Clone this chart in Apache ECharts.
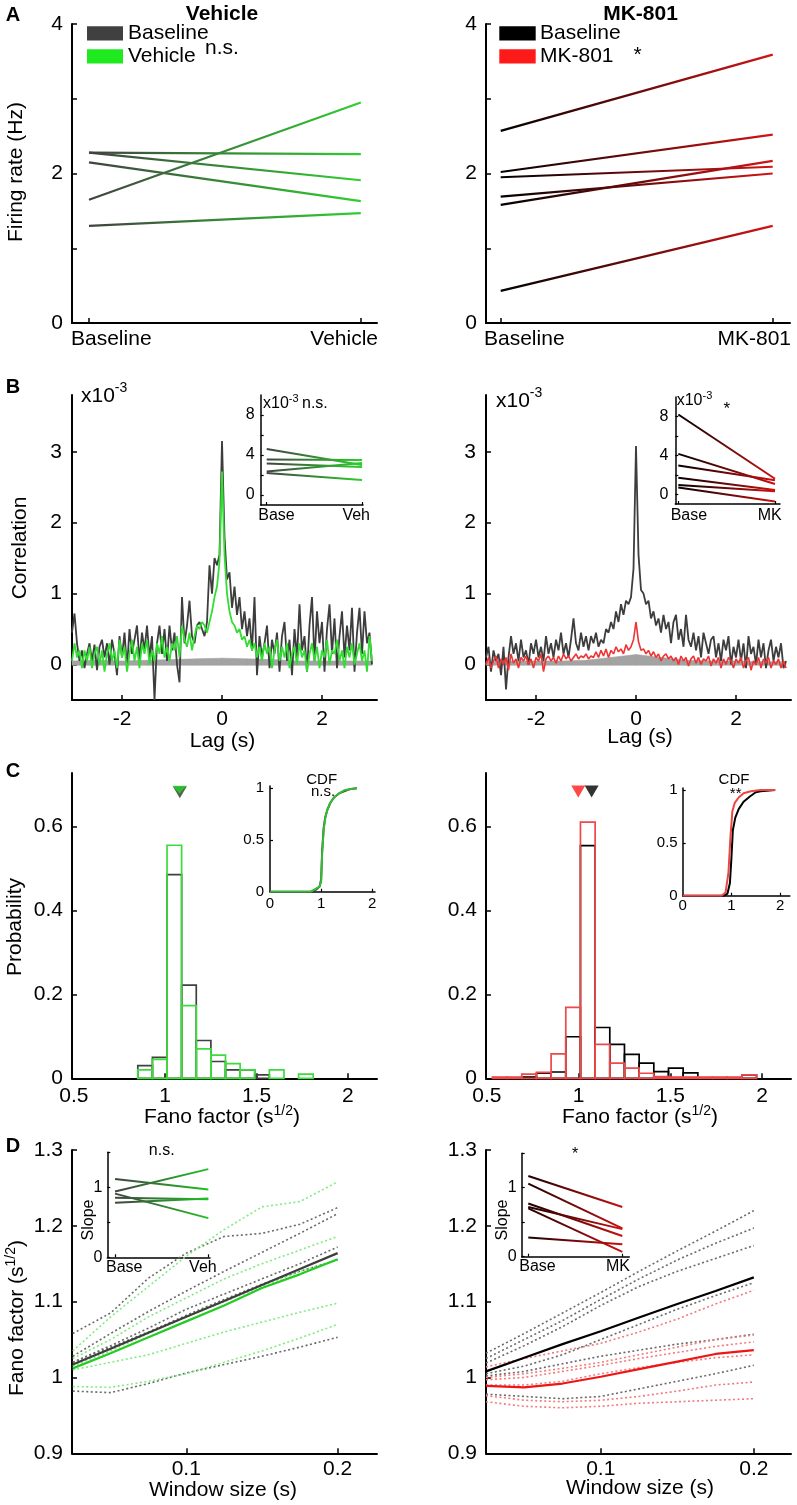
<!DOCTYPE html>
<html><head><meta charset="utf-8">
<script src="https://cdn.jsdelivr.net/npm/echarts@6/dist/echarts.min.js"></script>
<style>html,body{margin:0;padding:0;background:#fff}#c{width:797px;height:1505px}</style>
</head><body><div id="c"></div>
<script>
// ---------------- DATA ----------------
// Panel A : firing rate (Hz)
const A_CATS_VEH = ['Baseline', 'Vehicle'];
const A_CATS_MK = ['Baseline', 'MK-801'];
const A_VEH_BASELINE = [2.28, 2.28, 2.15, 1.65, 1.30];
const A_VEH_VEHICLE  = [2.26, 1.91, 1.63, 2.95, 1.47];
const A_MK_BASELINE  = [2.57, 2.02, 1.95, 1.69, 1.58, 0.43];
const A_MK_MK801     = [3.59, 2.52, 2.09, 2.00, 2.17, 1.30];

// Panel B : cross-correlograms (x10^-3), lag -3..3 s
const B_LAG_START = -3, B_LAG_STEP = 0.05;
const B_VEH_BASELINE = [0.45,0.72,0.30,0.05,0.20,-0.05,0.15,0.30,0.05,0.28,-0.08,0.25,0.35,0.10,0.30,0.00,0.35,0.15,-0.15,0.40,0.10,0.45,-0.05,0.50,0.15,0.35,0.55,0.05,0.45,0.20,0.55,0.10,0.40,-0.50,0.30,0.55,0.15,0.50,0.05,0.55,0.20,0.45,0.00,-0.25,0.95,0.30,0.55,0.90,0.40,0.30,0.55,0.60,0.50,0.40,0.60,1.40,1.00,1.50,1.40,1.55,3.15,1.80,1.20,1.30,0.80,1.10,0.70,0.95,0.50,0.75,0.40,0.65,0.20,0.95,-0.15,0.40,0.10,0.30,0.55,-0.05,0.35,0.15,0.45,-0.10,0.40,0.60,0.05,0.35,-0.15,0.50,0.10,0.85,0.20,0.40,-0.10,0.55,0.95,0.05,0.75,0.30,0.60,-0.10,0.50,0.85,0.15,0.65,-0.05,0.40,0.75,0.10,0.55,0.20,0.80,-0.10,0.45,0.80,0.15,0.75,0.30,0.45,0.00];
const B_VEH_VEHICLE = [0.05,0.30,0.10,0.20,-0.05,0.20,0.05,0.25,-0.05,0.15,0.25,0.00,0.20,-0.10,0.15,0.30,0.05,0.20,-0.05,0.35,0.10,0.25,-0.10,0.15,0.35,0.05,0.25,-0.05,0.30,0.15,0.35,0.00,0.20,0.05,0.30,0.15,0.40,0.10,0.25,0.05,0.30,0.20,0.40,0.10,0.55,0.35,0.25,0.45,0.20,0.40,0.55,0.50,0.60,0.55,0.45,0.60,0.75,0.95,1.10,1.45,2.72,1.55,1.00,0.75,0.60,0.55,0.45,0.50,0.35,0.40,0.25,0.35,0.20,0.30,0.10,0.25,0.05,0.30,0.15,0.25,-0.05,0.20,0.35,0.05,0.25,0.10,0.30,-0.05,0.15,0.25,0.00,0.30,0.10,0.20,-0.10,0.15,0.30,0.05,0.25,-0.05,0.20,0.10,0.35,0.00,0.20,0.15,0.35,0.05,0.20,-0.05,0.25,0.10,0.30,0.00,0.15,0.30,0.05,0.20,-0.10,0.40,0.05];
const B_MK_BASELINE = [0.10,0.25,-0.10,0.20,0.05,0.15,-0.15,0.25,-0.35,0.10,0.40,0.15,0.30,0.05,0.35,0.10,0.20,0.00,0.30,0.15,0.35,0.10,0.25,0.05,0.40,0.15,0.30,0.10,0.35,0.20,0.45,0.15,0.30,0.10,0.35,0.65,0.30,0.20,0.45,0.25,0.40,0.20,0.40,0.30,0.45,0.25,0.35,0.30,0.50,0.45,0.60,0.50,0.75,0.60,0.85,0.70,0.90,0.85,0.95,1.35,3.08,1.55,1.05,1.00,0.85,0.90,0.65,0.75,0.55,0.65,0.45,0.70,0.50,0.60,0.30,0.60,0.70,0.35,0.50,0.25,0.70,0.35,0.25,0.45,0.20,0.40,0.10,0.45,0.30,0.15,0.35,0.40,0.10,0.30,0.05,0.35,0.20,0.40,0.00,0.25,0.10,0.35,0.05,0.30,-0.05,0.40,0.15,0.25,0.00,0.35,0.10,0.30,-0.05,0.20,0.35,0.05,0.25,0.10,0.30,-0.05,0.05];
const B_MK_MK801 = [0.00,0.10,-0.05,0.05,0.12,-0.05,0.08,0.00,0.10,-0.08,0.15,0.02,0.08,-0.05,0.10,0.05,0.12,0.00,0.08,-0.05,0.10,0.05,0.15,-0.10,0.08,0.12,0.05,0.10,0.02,0.12,0.05,0.15,0.08,0.12,0.05,0.10,0.15,0.08,0.12,0.10,0.15,0.08,0.12,0.10,0.18,0.10,0.20,0.12,0.22,0.10,0.20,0.15,0.25,0.18,0.22,0.15,0.28,0.20,0.25,0.35,0.60,0.32,0.20,0.22,0.15,0.20,0.12,0.18,0.10,0.15,0.05,0.12,0.15,0.08,0.12,0.05,0.10,0.00,0.12,0.05,0.10,-0.02,0.08,0.12,0.02,0.10,0.00,0.08,0.05,0.12,-0.02,0.08,0.02,0.10,-0.05,0.08,0.00,0.10,0.05,-0.05,0.08,0.02,0.10,-0.05,0.05,0.10,-0.08,0.05,0.00,0.10,-0.05,0.08,0.02,0.10,-0.05,0.05,0.00,0.08,-0.05,0.05,-0.05];
const B_BAND_LAGS   = [-3,-2.5,-2,-1.5,-1,-0.5,0,0.5,1,1.5,2,2.5,3];
const B_VEH_SHUF_LO = [-0.01,-0.01,-0.01,-0.01,-0.01,-0.01,-0.01,-0.01,-0.01,-0.01,-0.01,-0.01,-0.01];
const B_VEH_SHUF_HI = [0.05,0.06,0.05,0.06,0.07,0.08,0.09,0.08,0.07,0.05,0.05,0.05,0.05];
const B_MK_SHUF_LO  = [-0.01,-0.01,-0.01,-0.01,-0.01,-0.01,-0.01,-0.01,-0.01,-0.01,-0.01,-0.01,-0.01];
const B_MK_SHUF_HI  = [0.04,0.05,0.05,0.05,0.06,0.10,0.14,0.10,0.06,0.05,0.05,0.04,0.04];
// Panel B insets (x10^-3)
const INSET_CATS_VEH = ['Base', 'Veh'];
const INSET_CATS_MK = ['Base', 'MK'];
const B_INSET_VEH_BASE = [4.6, 3.55, 3.15, 2.35, 2.2];
const B_INSET_VEH_VEH  = [3.0, 3.5, 2.8, 3.2, 1.5];
const B_INSET_MK_BASE  = [8.2, 4.15, 2.95, 1.7, 0.95, 0.7];
const B_INSET_MK_MK    = [1.6, 1.05, 1.45, 0.45, 0.3, -0.75];

// Panel C : Fano factor histograms
const C_EDGES = [0.53,0.61,0.69,0.77,0.85,0.93,1.01,1.09,1.17,1.25,1.33,1.41,1.49,1.57,1.65,1.73,1.81,1.89,1.97];
const C_VEH_BASELINE = [0,0,0,0,0.03,0.05,0.485,0.222,0.09,0.04,0.02,0.02,0.008,0,0,0,0,0];
const C_VEH_VEHICLE  = [0,0,0,0,0.02,0.045,0.555,0.173,0.07,0.055,0.035,0.02,0,0.02,0,0.01,0,0];
const C_MK_BASELINE  = [0,0,0.003,0.012,0.015,0.099,0.554,0.121,0.081,0.057,0.036,0.016,0.024,0.013,0,0,0,0.008];
const C_MK_MK801     = [0.003,0.003,0.01,0.014,0.058,0.169,0.610,0.081,0.036,0.024,0.012,0.004,0.003,0.003,0.003,0.003,0.003,0.008];
const C_VEH_MEANS = [1.08, 1.078];   // baseline, vehicle
const C_MK_MEANS  = [1.071, 0.998];  // baseline, MK-801
// CDF insets
const C_CDF_VEH_X    = [0,0.8,0.9,0.97,1.0,1.02,1.05,1.08,1.12,1.18,1.25,1.35,1.45,1.55,1.7];
const C_CDF_VEH_BASE = [0,0,0.02,0.05,0.12,0.40,0.62,0.72,0.79,0.86,0.91,0.95,0.97,0.99,1.0];
const C_CDF_VEH_VEH  = [0,0,0.03,0.05,0.10,0.37,0.60,0.71,0.79,0.86,0.91,0.95,0.98,0.99,1.0];
const C_CDF_MK_BASE_X = [0,0.85,0.92,0.97,1.0,1.03,1.08,1.15,1.25,1.38,1.5,1.6,1.9];
const C_CDF_MK_BASE   = [0,0,0.02,0.12,0.35,0.62,0.74,0.82,0.89,0.94,0.98,0.99,1.0];
const C_CDF_MK_MK_X   = [0,0.8,0.88,0.94,0.98,1.02,1.07,1.15,1.25,1.4,1.6,1.9];
const C_CDF_MK_MK     = [0,0,0.03,0.22,0.55,0.80,0.88,0.93,0.97,0.99,1.0,1.0];

// Panel D : Fano factor vs window size
const D_WINDOWS = [0.025,0.05,0.075,0.1,0.125,0.15,0.175,0.2];
const D_VEH_BASE_MEAN = [1.017,1.038,1.059,1.080,1.101,1.122,1.143,1.164];
const D_VEH_VEH_MEAN  = [1.012,1.032,1.053,1.074,1.095,1.118,1.136,1.156];
const D_VEH_BASE_UNITS = [
  [1.058,1.085,1.131,1.164,1.186,1.190,1.202,1.224],
  [1.028,1.058,1.087,1.114,1.140,1.165,1.190,1.216],
  [1.020,1.042,1.065,1.090,1.110,1.130,1.150,1.172],
  [1.020,1.040,1.060,1.082,1.103,1.123,1.140,1.155],
  [0.982,0.980,0.992,1.006,1.017,1.028,1.040,1.053]];
const D_VEH_VEH_UNITS = [
  [1.035,1.080,1.120,1.160,1.195,1.225,1.232,1.258],
  [1.025,1.050,1.080,1.105,1.130,1.150,1.168,1.186],
  [1.015,1.035,1.058,1.080,1.100,1.120,1.140,1.155],
  [1.010,1.020,1.030,1.045,1.060,1.073,1.086,1.098],
  [0.988,0.987,0.995,1.005,1.020,1.035,1.052,1.070]];
const D_MK_BASE_MEAN = [1.008,1.026,1.044,1.061,1.079,1.097,1.114,1.132];
const D_MK_MK_MEAN   = [0.989,0.987,0.992,1.001,1.011,1.021,1.031,1.036];
const D_MK_BASE_UNITS = [
  [1.032,1.058,1.085,1.112,1.140,1.167,1.193,1.220],
  [1.025,1.050,1.075,1.103,1.130,1.155,1.177,1.197],
  [1.019,1.042,1.067,1.095,1.120,1.140,1.157,1.174],
  [1.005,1.015,1.030,1.050,1.070,1.090,1.108,1.125],
  [1.002,1.008,1.018,1.028,1.036,1.044,1.050,1.057],
  [0.978,0.975,0.972,0.975,0.985,0.995,1.005,1.016]];
const D_MK_MK_UNITS = [
  [1.014,1.025,1.035,1.045,1.060,1.077,1.097,1.115],
  [1.000,1.005,1.012,1.020,1.030,1.040,1.050,1.056],
  [0.997,1.000,1.008,1.016,1.025,1.033,1.041,1.047],
  [0.990,0.990,0.995,1.005,1.013,1.020,1.026,1.030],
  [0.976,0.970,0.968,0.970,0.975,0.982,0.990,0.994],
  [0.968,0.962,0.960,0.962,0.966,0.968,0.970,0.972]];
// slope insets
const D_SLOPE_VEH_BASE = [1.12, 0.94, 0.91, 0.85, 0.78];
const D_SLOPE_VEH_VEH  = [0.97, 1.26, 0.56, 0.83, 0.84];
const D_SLOPE_MK_BASE  = [1.17, 1.06, 0.77, 0.72, 0.70, 0.28];
const D_SLOPE_MK_MK    = [0.72, 0.41, 0.30, 0.40, 0.07, 0.18];

// ---------------- BUILD ----------------
const FONT = "'Liberation Sans', Arial, Helvetica, sans-serif";
const grids = [], xAxes = [], yAxes = [], series = [], graphics = [];

function axis(min, max, ticks, labels, o) {
  o = o || {};
  return {
    type: 'value', min: min, max: max,
    axisLine: {show: true, onZero: false, lineStyle: {color: '#000', width: o.lw || 2}},
    axisTick: {show: ticks.length > 0, inside: true, length: o.tl || 5,
      customValues: ticks.length ? ticks : undefined, lineStyle: {color: '#000', width: o.tw || 1.5}},
    axisLabel: {show: labels.length > 0, customValues: labels.length ? labels : undefined,
      fontSize: o.fs || 21, fontFamily: FONT, color: '#000', margin: o.margin != null ? o.margin : 9},
    splitLine: {show: false}
  };
}
function addGrid(box, xa, ya) {
  const gi = grids.length;
  grids.push({left: box[0], top: box[1], width: box[2], height: box[3], containLabel: false});
  xAxes.push(Object.assign({gridIndex: gi}, xa));
  yAxes.push(Object.assign({gridIndex: gi}, ya));
  return gi;
}
function grad(c0, c1) {
  return new echarts.graphic.LinearGradient(0, 0, 1, 0, [{offset: 0, color: c0}, {offset: 1, color: c1}]);
}
function line(gi, data, style, extra) {
  return Object.assign({type: 'line', xAxisIndex: gi, yAxisIndex: gi, data: data, symbol: 'none',
    showSymbol: false, silent: true, lineStyle: style, z: 3}, extra || {});
}
function pairLines(gi, a, b, c0, c1, w) {
  a.forEach((v, i) => series.push(line(gi, [[0, v], [1, b[i]]], {width: w, color: grad(c0, c1)})));
}
function trace(gi, vals, color, w, z) {
  series.push(line(gi, vals.map((v, i) => [B_LAG_START + i * B_LAG_STEP, v]), {width: w, color: color}, {z: z}));
}
function band(gi, lo, hi) {
  const data = [];
  for (let i = 0; i < B_BAND_LAGS.length - 1; i++)
    data.push([B_BAND_LAGS[i], lo[i], hi[i], B_BAND_LAGS[i + 1], lo[i + 1], hi[i + 1]]);
  series.push({type: 'custom', xAxisIndex: gi, yAxisIndex: gi, data: data, silent: true, z: 3,
    encode: {x: [0, 3], y: [1, 2, 4, 5]},
    renderItem: function (params, api) {
      const a = api.coord([api.value(0), api.value(1)]), b = api.coord([api.value(0), api.value(2)]);
      const c = api.coord([api.value(3), api.value(5)]), d = api.coord([api.value(3), api.value(4)]);
      return {type: 'polygon', shape: {points: [a, b, c, d]}, style: {fill: '#a3a3a3', stroke: '#a3a3a3', lineWidth: 0.6}};
    }});
}
function hist(gi, heights, color, z) {
  const data = [];
  heights.forEach((h, i) => { if (h > 0) data.push([C_EDGES[i], C_EDGES[i + 1], h]); });
  series.push({type: 'custom', xAxisIndex: gi, yAxisIndex: gi, data: data, silent: true, z: z,
    encode: {x: [0, 1], y: 2},
    renderItem: function (params, api) {
      const p0 = api.coord([api.value(0), 0]);
      const p1 = api.coord([api.value(1), api.value(2)]);
      return {type: 'rect', shape: {x: p0[0], y: p1[1], width: p1[0] - p0[0], height: p0[1] - p1[1]},
        style: {fill: 'none', stroke: color, lineWidth: 1.7}};
    }});
}
function marker(gi, x, y, color, z, size) {
  series.push({type: 'scatter', xAxisIndex: gi, yAxisIndex: gi, data: [[x, y]], symbol: 'triangle',
    symbolRotate: 180, symbolSize: size || [14, 12], itemStyle: {color: color}, silent: true, z: z});
}
function xy(xs, ys) { return xs.map((x, i) => [x, ys[i]]); }
function wins(vals) { return D_WINDOWS.map((w, i) => [w, vals[i]]); }

// ---- Panel A ----
const gAL = addGrid([72, 24, 305, 299], axis(-0.0625, 1.0596, [0, 1], []), axis(0, 4, [0, 1, 2, 3, 4], [0, 2, 4]));
pairLines(gAL, A_VEH_BASELINE, A_VEH_VEHICLE, '#404040', '#2fd12f', 2.2);
const gAR = addGrid([486, 24, 304, 299], axis(-0.054, 1.0636, [0, 1], []), axis(0, 4, [0, 1, 2, 3, 4], [0, 2, 4]));
pairLines(gAR, A_MK_BASELINE, A_MK_MK801, '#000000', '#d41414', 2.2);

// ---- Panel B ----
const IN = {lw: 1.5, tl: 3, tw: 1.2};
const gBL = addGrid([72, 395, 305, 305], axis(-3, 3.1, [-2, 0, 2], [-2, 0, 2], {margin: 9}), axis(-0.5, 3.8, [0, 1, 2, 3], [0, 1, 2, 3], {margin: 10}));
trace(gBL, B_VEH_BASELINE, '#3d3d3d', 1.8, 3);
band(gBL, B_VEH_SHUF_LO, B_VEH_SHUF_HI);
trace(gBL, B_VEH_VEHICLE, '#33dd33', 1.8, 4);
const gBLi = addGrid([260.7, 395, 102.3, 110], axis(-0.063, 1.01, [0, 1], [], IN),
  axis(-1, 10, [0, 2, 4, 6, 8], [0, 4, 8], Object.assign({fs: 16, margin: 6}, IN)));
pairLines(gBLi, B_INSET_VEH_BASE, B_INSET_VEH_VEH, '#404040', '#2bd12b', 2);

const gBR = addGrid([486, 395, 305, 305], axis(-3, 3.1, [-2, 0, 2], [-2, 0, 2], {margin: 9}), axis(-0.5, 3.8, [0, 1, 2, 3], [0, 1, 2, 3], {margin: 10}));
trace(gBR, B_MK_BASELINE, '#3d3d3d', 1.8, 3);
band(gBR, B_MK_SHUF_LO, B_MK_SHUF_HI);
trace(gBR, B_MK_MK801, '#ee3535', 1.6, 4);
const gBRi = addGrid([675.3, 397, 104.7, 107], axis(-0.031, 1.052, [0, 1], [], IN),
  axis(-1, 10, [0, 2, 4, 6, 8], [0, 4, 8], Object.assign({fs: 16, margin: 7}, IN)));
pairLines(gBRi, B_INSET_MK_BASE, B_INSET_MK_MK, '#000000', '#d01010', 2);

// ---- Panel C ----
const MARKER_Y = 0.683;
const gCL = addGrid([72, 773, 305, 305.3], axis(0.49, 2.159, [1, 1.5, 2], [0.5, 1, 1.5, 2], {margin: 7}), axis(0, 0.727, [0.2, 0.4, 0.6], [0, 0.2, 0.4, 0.6]));
hist(gCL, C_VEH_BASELINE, '#404040', 3);
hist(gCL, C_VEH_VEHICLE, '#3ddc3d', 4);
marker(gCL, C_VEH_MEANS[0], MARKER_Y - 0.002, '#1f3f1f', 5, [14, 12]);
marker(gCL, C_VEH_MEANS[1], MARKER_Y + 0.004, '#2ad02a', 6, [14, 8]);
const gCLi = addGrid([270, 786, 105, 105.7], axis(0, 2.053, [1, 2], [0, 1, 2], Object.assign({fs: 15, margin: 5}, IN)),
  axis(0, 1.022, [0.5, 1], [0, 0.5, 1], Object.assign({fs: 15, margin: 6}, IN)));
series.push(line(gCLi, xy(C_CDF_VEH_X, C_CDF_VEH_BASE), {width: 2, color: '#404040'}));
series.push(line(gCLi, xy(C_CDF_VEH_X, C_CDF_VEH_VEH), {width: 2, color: '#33bb33'}, {z: 4}));

const gCR = addGrid([486, 773, 305, 305.3], axis(0.495, 2.158, [1, 1.5, 2], [0.5, 1, 1.5, 2], {margin: 7}), axis(0, 0.727, [0.2, 0.4, 0.6], [0, 0.2, 0.4, 0.6]));
hist(gCR, C_MK_BASELINE, '#000000', 3);
hist(gCR, C_MK_MK801, '#ee4848', 4);
marker(gCR, C_MK_MEANS[0], MARKER_Y, '#000000', 5);
marker(gCR, C_MK_MEANS[1], MARKER_Y, '#ff1a1a', 6);
const gCRi = addGrid([682.7, 788, 107.1, 107.7], axis(0, 2.2, [1, 2], [0, 1, 2], Object.assign({fs: 15, margin: 3}, IN)),
  axis(0, 1.02, [0.5, 1], [0, 0.5, 1], Object.assign({fs: 15, margin: 5}, IN)));
series.push(line(gCRi, xy(C_CDF_MK_BASE_X, C_CDF_MK_BASE), {width: 2, color: '#000000'}));
series.push(line(gCRi, xy(C_CDF_MK_MK_X, C_CDF_MK_MK), {width: 2, color: '#ee4444'}, {z: 4}));

// ---- Panel D ----
const gDL = addGrid([72, 1150, 305, 303.3], axis(0.0245, 0.226, [0.1, 0.2], [0.1, 0.2], {margin: 5}),
  axis(0.9, 1.3, [1, 1.1, 1.2, 1.3], [0.9, 1, 1.1, 1.2, 1.3]));
D_VEH_BASE_UNITS.forEach(u => series.push(line(gDL, wins(u), {width: 1.6, color: '#6a6a6a', type: [2, 2.5]})));
D_VEH_VEH_UNITS.forEach(u => series.push(line(gDL, wins(u), {width: 1.6, color: '#80ec80', type: [2, 2.5]})));
series.push(line(gDL, wins(D_VEH_BASE_MEAN), {width: 2.2, color: '#3d3d3d'}, {z: 5}));
series.push(line(gDL, wins(D_VEH_VEH_MEAN), {width: 2.2, color: '#22cc22'}, {z: 6}));
const gDLi = addGrid([107.3, 1152.3, 102.7, 105], axis(-0.083, 1.018, [0, 1], [], IN),
  axis(0, 1.5, [0, 0.5, 1, 1.5], [0, 1], Object.assign({fs: 16, margin: 5}, IN)));
pairLines(gDLi, D_SLOPE_VEH_BASE, D_SLOPE_VEH_VEH, '#404040', '#22c422', 2);

const gDR = addGrid([486, 1150, 305, 303.3], axis(0.025, 0.2243, [0.1, 0.2], [0.1, 0.2], {margin: 5}),
  axis(0.9, 1.3, [1, 1.1, 1.2, 1.3], [0.9, 1, 1.1, 1.2, 1.3]));
D_MK_BASE_UNITS.forEach(u => series.push(line(gDR, wins(u), {width: 1.6, color: '#6a6a6a', type: [2, 2.5]})));
D_MK_MK_UNITS.forEach(u => series.push(line(gDR, wins(u), {width: 1.6, color: '#f27a7a', type: [2, 2.5]})));
series.push(line(gDR, wins(D_MK_BASE_MEAN), {width: 2.2, color: '#000000'}, {z: 5}));
series.push(line(gDR, wins(D_MK_MK_MEAN), {width: 2.2, color: '#ee1515'}, {z: 6}));
const gDRi = addGrid([521.7, 1153.2, 107.6, 103.5], axis(-0.07, 1.074, [0, 1], [], IN),
  axis(0, 1.5, [0, 0.5, 1, 1.5], [0, 1], Object.assign({fs: 16, margin: 5}, IN)));
pairLines(gDRi, D_SLOPE_MK_BASE, D_SLOPE_MK_MK, '#1a0000', '#cc1111', 2);

// ---------------- TEXT ----------------
function T(x, y, text, o) {
  o = o || {};
  const al = o.align || 'center';
  const st = {text: text, x: 0, y: 0, fontSize: o.fs || 21, fontFamily: FONT,
    fontWeight: o.bold ? 'bold' : 'normal', fill: o.color || '#000',
    align: al, verticalAlign: 'middle', textAlign: al, textVerticalAlign: 'middle'};
  if (o.rich) st.rich = o.rich;
  graphics.push({type: 'text', x: x, y: y, rotation: o.rot || 0, silent: true, z: 100, style: st});
}
function supRich(fs, sfs, lift) {
  return {m: {fontSize: fs, fontFamily: FONT, lineHeight: fs + lift, fill: '#000'},
          s: {fontSize: sfs, fontFamily: FONT, lineHeight: sfs, verticalAlign: 'top', fill: '#000'}};
}
function rect(x, y, w, h, c) {
  graphics.push({type: 'rect', silent: true, z: 100, shape: {x: x, y: y, width: w, height: h}, style: {fill: c}});
}
// panel letters & titles
T(13, 15, 'A', {bold: true, fs: 20}); T(13, 387, 'B', {bold: true, fs: 20});
T(13, 771, 'C', {bold: true, fs: 20}); T(13, 1146, 'D', {bold: true, fs: 20});
T(222, 14, 'Vehicle', {bold: true}); T(640.5, 14, 'MK-801', {bold: true});
// legends A
rect(87, 26.3, 36, 14.3, '#404040'); rect(87, 49.3, 36, 14.3, '#1fea1f');
T(128, 33.5, 'Baseline', {align: 'left'}); T(128, 56.7, 'Vehicle', {align: 'left'});
T(205, 48.2, 'n.s.', {align: 'left'});
rect(499.3, 26.3, 36.4, 14.3, '#000000'); rect(499.3, 49.3, 36.4, 14.3, '#ff1a1a');
T(540, 33.5, 'Baseline', {align: 'left'}); T(540, 56.7, 'MK-801', {align: 'left'});
T(637.7, 55, '*');
// A category labels
T(71, 339, A_CATS_VEH[0], {align: 'left'}); T(378, 339, A_CATS_VEH[1], {align: 'right'});
T(484, 339, A_CATS_MK[0], {align: 'left'}); T(791, 339, A_CATS_MK[1], {align: 'right'});
// y axis names
T(16, 172, 'Firing rate (Hz)', {rot: Math.PI / 2});
T(20, 548, 'Correlation', {rot: Math.PI / 2});
T(15, 927, 'Probability', {rot: Math.PI / 2});
T(17, 1318, '{m|Fano factor (s}{s|1/2}{m|)}', {rot: Math.PI / 2, rich: supRich(21, 14, 4)});
// x axis names
T(222.5, 741, 'Lag (s)'); T(640, 737.5, 'Lag (s)');
T(222, 1117, '{m|Fano factor (s}{s|1/2}{m|)}', {rich: supRich(21, 14, 4)});
T(640, 1117, '{m|Fano factor (s}{s|1/2}{m|)}', {rich: supRich(21, 14, 4)});
T(223, 1490, 'Window size (s)'); T(640, 1488.5, 'Window size (s)');
// B multipliers
T(81, 396, '{m|x10}{s|-3}', {align: 'left', rich: supRich(21, 14, 8)});
T(496, 401, '{m|x10}{s|-3}', {align: 'left', rich: supRich(21, 14, 8)});
T(263, 404, '{m|x10}{s|-3}', {align: 'left', rich: supRich(16, 11, 6)});
T(302, 403.6, 'n.s.', {align: 'left', fs: 16});
T(676.7, 401, '{m|x10}{s|-3}', {align: 'left', rich: supRich(16, 11, 6)});
T(726.7, 409, '*', {fs: 17});
// B inset categories
T(258.3, 515.5, INSET_CATS_VEH[0], {align: 'left', fs: 16}); T(370, 515.5, INSET_CATS_VEH[1], {align: 'right', fs: 16});
T(670.7, 515.5, INSET_CATS_MK[0], {align: 'left', fs: 16}); T(781.7, 515.5, INSET_CATS_MK[1], {align: 'right', fs: 16});
// C inset texts
T(321.7, 780, 'CDF', {fs: 15}); T(323, 792, 'n.s.', {fs: 15});
T(734, 780, 'CDF', {fs: 15}); T(735.7, 794, '**', {fs: 15});
// D inset texts
T(161.7, 1150.3, 'n.s.', {fs: 16}); T(575, 1155, '*', {fs: 16});
T(88.5, 1220, 'Slope', {fs: 16, rot: Math.PI / 2}); T(502.5, 1220, 'Slope', {fs: 16, rot: Math.PI / 2});
T(106, 1267.7, INSET_CATS_VEH[0], {align: 'left', fs: 16}); T(216.7, 1267.7, INSET_CATS_VEH[1], {align: 'right', fs: 16});
T(519.3, 1267, INSET_CATS_MK[0], {align: 'left', fs: 16}); T(630, 1267, INSET_CATS_MK[1], {align: 'right', fs: 16});

const chart = echarts.init(document.getElementById('c'), null, {renderer: 'canvas', width: 797, height: 1505});
chart.setOption({
  animation: false,
  backgroundColor: '#fff',
  textStyle: {fontFamily: FONT},
  grid: grids, xAxis: xAxes, yAxis: yAxes, series: series, graphic: graphics
});
</script></body></html>
